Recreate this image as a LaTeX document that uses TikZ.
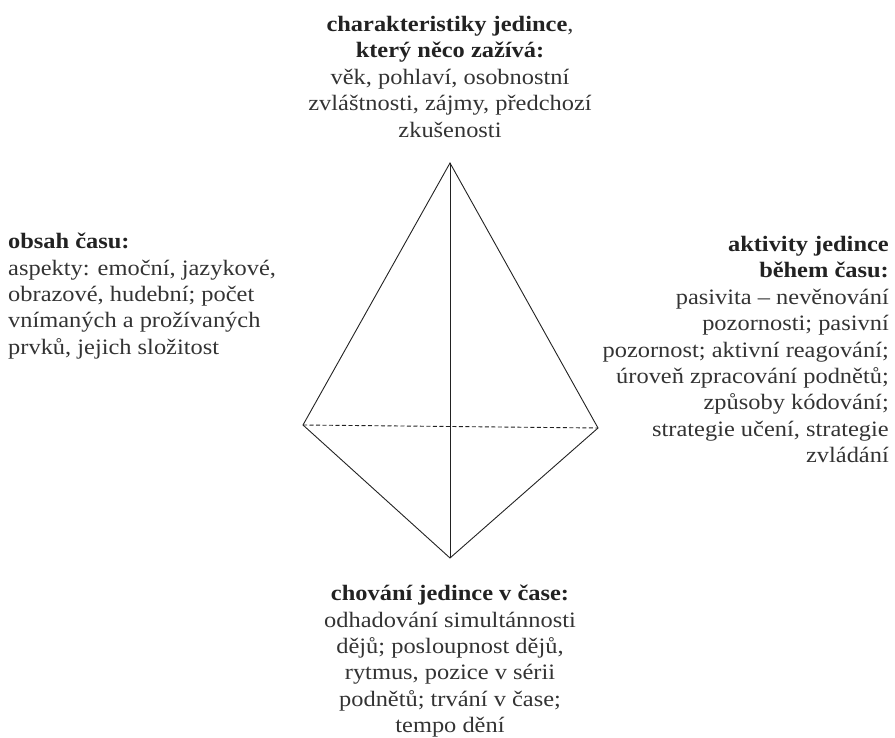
\documentclass[tikz,border=0pt]{standalone}
\usepackage{fontspec}
\setmainfont[FakeStretch=1.11]{Liberation Serif}
\definecolor{txt}{HTML}{333333}
\definecolor{hdr}{HTML}{222222}
\tikzset{
  lbl/.style={inner sep=0pt, font=\fontsize{22}{26.4}\selectfont, text=txt},
  edge/.style={line width=0.9pt, draw=hdr},
}
\begin{document}
\begin{tikzpicture}[x=1pt,y=-1pt]
\useasboundingbox (0,0) rectangle (895,738);
\coordinate (T) at (450,163);
\coordinate (L) at (303,425);
\coordinate (R) at (598,428);
\coordinate (B) at (450,558);
\draw[edge] (T) -- (L) -- (B) -- (R) -- cycle;
\draw[edge] (T) -- (B);
\draw[edge, dash pattern=on 4pt off 2.5pt] (L) -- (R);
\node[lbl, anchor=north, align=center] (top) at (450,16) {\textbf{\color{hdr}charakteristiky jedince},\\\textbf{\color{hdr}který něco zažívá:}\\věk, pohlaví, osobnostní\\zvláštnosti, zájmy, předchozí\\zkušenosti};
\node[lbl, anchor=north west, align=left] (left) at (8,233) {\textbf{\color{hdr}obsah času:}\\aspekty: emoční, jazykové,\\obrazové, hudební; počet\\vnímaných a prožívaných\\prvků, jejich složitost};
\node[lbl, anchor=north east, align=right] (right) at (889,236) {\textbf{\color{hdr}aktivity jedince}\\\textbf{\color{hdr}během času:}\\pasivita – nevěnování\\pozornosti; pasivní\\pozornost; aktivní reagování;\\úroveň zpracování podnětů;\\způsoby kódování;\\strategie učení, strategie\\zvládání};
\node[lbl, anchor=north, align=center] (bottom) at (450,585) {\textbf{\color{hdr}chování jedince v čase:}\\odhadování simultánnosti\\dějů; posloupnost dějů,\\rytmus, pozice v sérii\\podnětů; trvání v čase;\\tempo dění};
\end{tikzpicture}
\end{document}
